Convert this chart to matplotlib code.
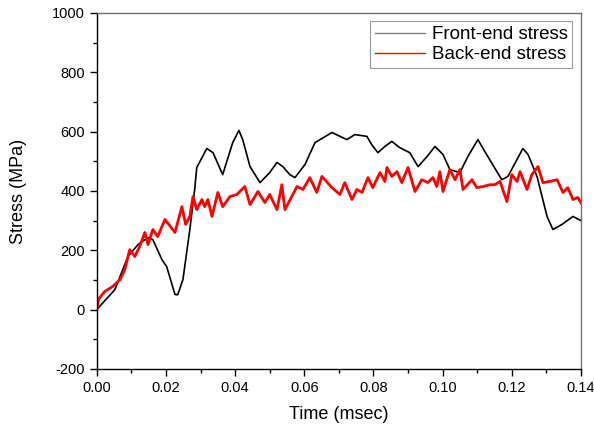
import matplotlib
matplotlib.use("Agg")
import matplotlib.pyplot as plt
from matplotlib.ticker import MultipleLocator, FormatStrFormatter

plt.rcParams['font.family'] = ['Liberation Sans', 'DejaVu Sans']
plt.rcParams['axes.unicode_minus'] = False

front_t = [0.0000, 0.0023, 0.0052, 0.0090, 0.0119, 0.0148, 0.0162, 0.0188, 0.0202, 0.0226,
           0.0234, 0.0249, 0.0269, 0.0283, 0.0289, 0.0318, 0.0336, 0.0364, 0.0393, 0.0411,
           0.0422, 0.0443, 0.0472, 0.0500, 0.0521, 0.0538, 0.0558, 0.0573, 0.0602, 0.0631,
           0.0680, 0.0723, 0.0746, 0.0781, 0.0795, 0.0813, 0.0833, 0.0853, 0.0876, 0.0905,
           0.0929, 0.0955, 0.0978, 0.1001, 0.1021, 0.1050, 0.1073, 0.1102, 0.1122, 0.1171,
           0.1189, 0.1232, 0.1247, 0.1273, 0.1302, 0.1319, 0.1345, 0.1377, 0.1400]
front_s = [0, 30, 67, 179, 219, 243, 236, 169, 145, 51,
           50, 101, 270, 405, 479, 543, 529, 455, 563, 604,
           573, 482, 428, 462, 496, 482, 455, 445, 489, 563,
           597, 573, 590, 584, 556, 529, 550, 567, 546, 529,
           482, 516, 550, 523, 472, 462, 516, 573, 533, 438,
           449, 543, 523, 449, 314, 270, 287, 314, 300]

back_t = [0.0000, 0.0005, 0.0023, 0.0046, 0.0067, 0.0081, 0.0095, 0.0110, 0.0124, 0.0139,
          0.0148, 0.0162, 0.0176, 0.0197, 0.0226, 0.0246, 0.0257, 0.0269, 0.0278, 0.0289,
          0.0304, 0.0312, 0.0321, 0.0333, 0.0350, 0.0364, 0.0385, 0.0405, 0.0428, 0.0443,
          0.0466, 0.0486, 0.0500, 0.0521, 0.0535, 0.0544, 0.0579, 0.0596, 0.0616, 0.0636,
          0.0651, 0.0680, 0.0703, 0.0717, 0.0738, 0.0752, 0.0767, 0.0784, 0.0798, 0.0819,
          0.0833, 0.0839, 0.0853, 0.0868, 0.0882, 0.0900, 0.0920, 0.0940, 0.0957, 0.0972,
          0.0983, 0.0992, 0.1001, 0.1021, 0.1036, 0.1050, 0.1059, 0.1085, 0.1099, 0.1117,
          0.1137, 0.1151, 0.1166, 0.1186, 0.1200, 0.1215, 0.1224, 0.1244, 0.1258, 0.1276,
          0.1290, 0.1310, 0.1331, 0.1348, 0.1362, 0.1377, 0.1391, 0.1400]
back_s = [0, 35, 61, 78, 101, 135, 202, 179, 213, 260,
          219, 270, 246, 304, 260, 347, 287, 314, 381, 337,
          371, 347, 371, 314, 395, 347, 381, 388, 415, 354,
          398, 361, 388, 337, 421, 337, 415, 405, 445, 395,
          449, 411, 388, 428, 371, 405, 395, 445, 411, 462,
          432, 479, 449, 465, 428, 479, 398, 438, 428, 445,
          415, 465, 398, 472, 438, 472, 405, 438, 411, 415,
          421, 421, 432, 364, 455, 432, 465, 405, 455, 482,
          428, 432, 438, 395, 411, 371, 378, 360]

fig = plt.figure(figsize=(5.94, 4.32), dpi=100)
ax = fig.add_axes([0.163, 0.146, 0.815, 0.824])

ax.plot(front_t, front_s, color='black', lw=1.2, label='Front-end stress')
ax.plot(back_t, back_s, color='#ff0000', lw=2.0, label='Back-end stress')

ax.set_xlim(0, 0.14)
ax.set_ylim(-200, 1000)
ax.xaxis.set_major_locator(MultipleLocator(0.02))
ax.xaxis.set_minor_locator(MultipleLocator(0.01))
ax.yaxis.set_major_locator(MultipleLocator(200))
ax.yaxis.set_minor_locator(MultipleLocator(100))
ax.xaxis.set_major_formatter(FormatStrFormatter('%.2f'))

ax.tick_params(which='both', direction='out', top=False, right=False, labelsize=10.5, width=1)
ax.tick_params(which='major', length=5)
ax.tick_params(which='minor', length=3)

for s in ['top', 'right']:
    ax.spines[s].set_color('#707070')
for s in ax.spines.values():
    s.set_linewidth(1.0)

ax.set_xlabel('Time (msec)', fontsize=13, labelpad=8)
ax.set_ylabel('Stress (MPa)', fontsize=13, labelpad=18)

leg = ax.legend(loc='upper right', fontsize=13.5, frameon=True, fancybox=False,
                edgecolor='#808080', handlelength=2.7, borderpad=0.25,
                labelspacing=0.15, handletextpad=0.35, borderaxespad=0.45)
leg.get_frame().set_linewidth(0.8)
for h in leg.get_lines():
    h.set_linewidth(1.0)
leg.get_lines()[0].set_color('#808080')

fig.savefig('out.png', dpi=100)
